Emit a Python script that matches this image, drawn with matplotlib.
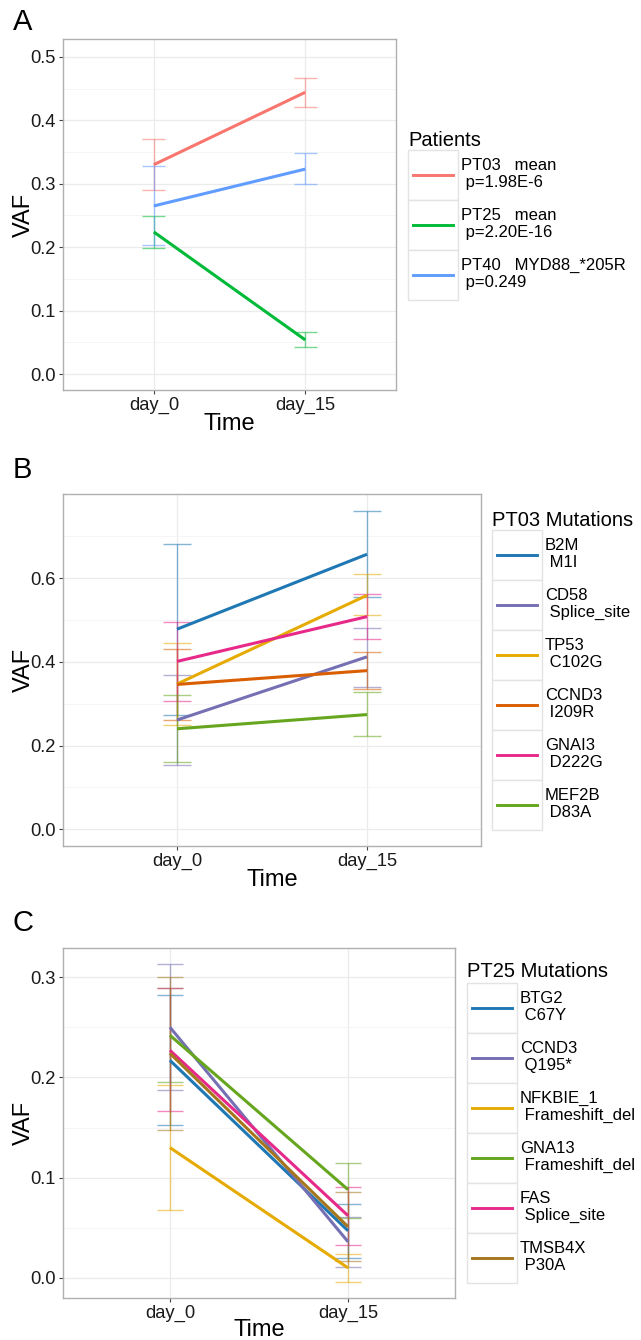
import numpy as np
import matplotlib.pyplot as plt
from matplotlib.patches import Rectangle
from matplotlib.lines import Line2D

plt.rcParams['font.family'] = ['Liberation Sans', 'DejaVu Sans']

W, H = 641, 1340

times = ['day_0', 'day_15']

# panel A: patients
pat_labels = ['PT03   mean\n p=1.98E-6', 'PT25   mean\n p=2.20E-16',
              'PT40   MYD88_*205R\n p=0.249']
pat_colors = ['#F8766D', '#00BA38', '#619CFF']
pat_mean = [[0.330, 0.444], [0.224, 0.054], [0.265, 0.323]]
pat_lo = [[0.290, 0.421], [0.199, 0.043], [0.203, 0.299]]
pat_hi = [[0.371, 0.467], [0.249, 0.066], [0.328, 0.348]]

# panel B: PT03 mutations
pt03_labels = ['B2M\n M1I', 'CD58\n Splice_site', 'TP53\n C102G',
               'CCND3\n I209R', 'GNAI3\n D222G', 'MEF2B\n D83A']
pt03_colors = ['#1F78B4', '#7570B3', '#E6AB02', '#D95F02', '#E7298A', '#66A61E']
pt03_mean = [[0.478, 0.657], [0.261, 0.412], [0.347, 0.559],
             [0.346, 0.379], [0.401, 0.508], [0.240, 0.274]]
pt03_lo = [[0.273, 0.556], [0.154, 0.340], [0.248, 0.511],
           [0.262, 0.336], [0.306, 0.454], [0.160, 0.223]]
pt03_hi = [[0.682, 0.760], [0.368, 0.482], [0.446, 0.610],
           [0.430, 0.423], [0.496, 0.563], [0.320, 0.327]]

# panel C: PT25 mutations
pt25_labels = ['BTG2\n C67Y', 'CCND3\n Q195*', 'NFKBIE_1\n Frameshift_del',
               'GNA13\n Frameshift_del', 'FAS\n Splice_site', 'TMSB4X\n P30A']
pt25_colors = ['#1F78B4', '#7570B3', '#E6AB02', '#66A61E', '#E7298A', '#A6761D']
pt25_mean = [[0.217, 0.047], [0.250, 0.036], [0.130, 0.010],
             [0.242, 0.088], [0.227, 0.062], [0.224, 0.051]]
pt25_lo = [[0.153, 0.020], [0.187, 0.011], [0.068, -0.004],
           [0.195, 0.060], [0.166, 0.033], [0.148, 0.017]]
pt25_hi = [[0.282, 0.074], [0.313, 0.061], [0.192, 0.024],
           [0.289, 0.115], [0.289, 0.091], [0.300, 0.086]]

fig = plt.figure(figsize=(W / 100, H / 100), dpi=100)


def px_box(x0, y0, x1, y1):
    return [x0 / W, 1 - y1 / H, (x1 - x0) / W, (y1 - y0) / H]


def panel(box, letter, letter_y, means, lo, hi, colors, ylim, yticks, minor, time_gap=23):
    x0, y0, x1, y1 = box
    ax = fig.add_axes(px_box(*box))
    xs = np.arange(1, len(times) + 1)
    # error bars first, lighter
    for l, h, c in zip(lo, hi, colors):
        ax.vlines(xs, l, h, color=c, alpha=0.55, lw=1)
        ax.hlines(l, xs - 0.075, xs + 0.075, color=c, alpha=0.55, lw=1)
        ax.hlines(h, xs - 0.075, xs + 0.075, color=c, alpha=0.55, lw=1)
    for m, c in zip(means, colors):
        ax.plot(xs, m, color=c, lw=2.2, solid_capstyle='butt')
    ax.set_xlim(0.4, 2.6)
    ax.set_ylim(*ylim)
    ax.set_xticks(xs)
    ax.set_xticklabels(times)
    ax.set_yticks(yticks)
    ax.set_yticklabels(['%.1f' % t for t in yticks])
    ax.set_yticks(minor, minor=True)
    ax.grid(True, which='major', color='#EBEBEB', lw=0.9)
    ax.grid(True, which='minor', axis='y', color='#F4F4F4', lw=0.6)
    ax.set_axisbelow(True)
    ax.tick_params(which='major', length=3, width=0.8, color='#444444',
                   labelsize=13.2, labelcolor='#1A1A1A', pad=2)
    ax.tick_params(which='minor', length=0)
    for s in ax.spines.values():
        s.set_color('#B0B0B0')
        s.set_linewidth(1)
    ax.set_ylabel('VAF', fontsize=17)
    ax.yaxis.set_label_coords((35 - x0) / (x1 - x0), 0.5)
    ax.set_xlabel('Time', fontsize=17)
    ax.xaxis.set_label_coords(0.5, -time_gap / (y1 - y0))
    fig.text(13 / W, 1 - letter_y / H, letter, fontsize=21, va='baseline')
    return ax


def legend(x, title_y, box_top, title, labels, colors):
    fig.text(x / W, 1 - title_y / H, title, fontsize=14.5, va='baseline')
    for i, (lab, c) in enumerate(zip(labels, colors)):
        top = box_top + 50 * i
        fig.patches.append(Rectangle((x / W, 1 - (top + 50) / H), 50 / W, 50 / H,
                                     transform=fig.transFigure, facecolor='white',
                                     edgecolor='#E3E3E3', lw=1))
        fig.lines.append(Line2D([(x + 5) / W, (x + 45) / W],
                                [1 - (top + 25) / H] * 2, transform=fig.transFigure,
                                color=c, lw=2.1))
        fig.text((x + 53) / W, 1 - (top + 24) / H, lab, fontsize=12,
                 va='center', linespacing=1.2)


panel((63, 39, 396, 390), 'A', 30, np.array(pat_mean), np.array(pat_lo),
      np.array(pat_hi), pat_colors, (-0.025, 0.528),
      [0, 0.1, 0.2, 0.3, 0.4, 0.5], [0.05, 0.15, 0.25, 0.35, 0.45])
legend(408, 146, 150, 'Patients', pat_labels, pat_colors)

panel((63, 494, 481, 846), 'B', 478, np.array(pt03_mean), np.array(pt03_lo),
      np.array(pt03_hi), pt03_colors, (-0.040, 0.801),
      [0, 0.2, 0.4, 0.6], [0.1, 0.3, 0.5, 0.7])
legend(492, 526, 530, 'PT03 Mutations', pt03_labels, pt03_colors)

panel((63, 948, 455, 1298), 'C', 931, np.array(pt25_mean), np.array(pt25_lo),
      np.array(pt25_hi), pt25_colors, (-0.020, 0.329),
      [0, 0.1, 0.2, 0.3], [0.05, 0.15, 0.25], time_gap=21)
legend(467, 977, 983, 'PT25 Mutations', pt25_labels, pt25_colors)

fig.savefig('out.png', dpi=100)
